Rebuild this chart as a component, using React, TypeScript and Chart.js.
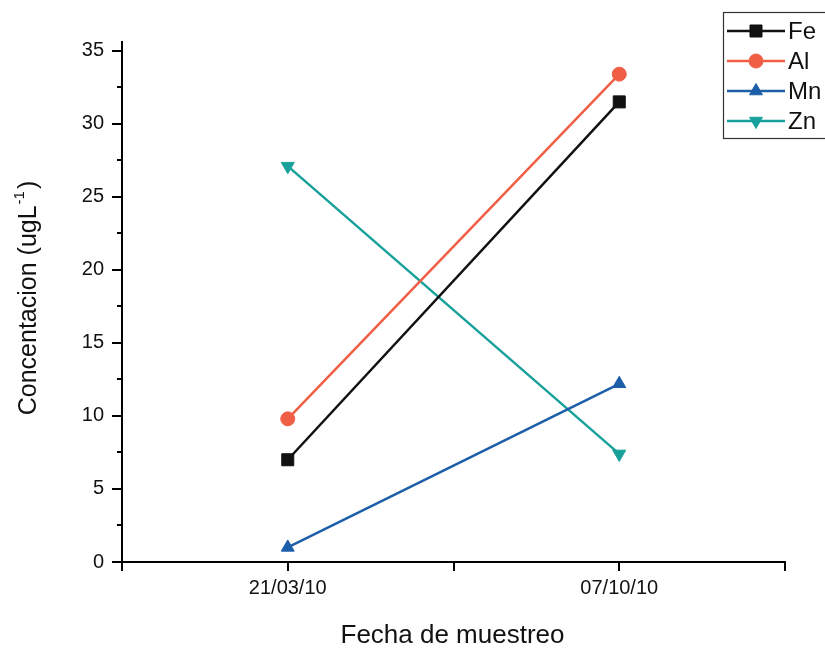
import React, { useEffect, useRef } from "react";
import { Chart, registerables } from "chart.js";

Chart.register(...registerables);

// Sampling dates (x positions 1 and 2 on a 0.5–2.5 axis)
const sampleDates = ["21/03/10", "07/10/10"];
const samplePositions = [1, 2];

// Metal concentrations (ugL-1) at each sampling date
const feValues = [7.0, 31.5];
const alValues = [9.8, 33.4];
const mnValues = [1.0, 12.2];
const znValues = [27.1, 7.4];

const seriesNames = ["Fe", "Al", "Mn", "Zn"];
const seriesColors = ["#111111", "#f05f45", "#1d5ea8", "#18a19a"];

const yTickValues = [0, 5, 10, 15, 20, 25, 30, 35];

const W = 825;
const H = 650;

const FONT = "'Liberation Sans', Arial, sans-serif";

const toPoints = (vals: number[]) =>
  vals.map((v, i) => ({ x: samplePositions[i], y: v }));

function drawMarker(ctx: CanvasRenderingContext2D, style: string, rotation: number, r: number, x: number, y: number) {
  ctx.beginPath();
  if (style === "rect") {
    const s = r * Math.SQRT1_2;
    ctx.rect(x - s, y - s, 2 * s, 2 * s);
  } else if (style === "circle") {
    ctx.arc(x, y, r, 0, Math.PI * 2);
  } else {
    let rad = (rotation * Math.PI) / 180;
    ctx.moveTo(x + Math.sin(rad) * r, y - Math.cos(rad) * r);
    rad += (2 * Math.PI) / 3;
    ctx.lineTo(x + Math.sin(rad) * r, y - Math.cos(rad) * r);
    rad += (2 * Math.PI) / 3;
    ctx.lineTo(x + Math.sin(rad) * r, y - Math.cos(rad) * r);
    ctx.closePath();
  }
  ctx.fill();
  ctx.stroke();
}

// Axis ticks (major + minor), titles and the boxed legend
const decorPlugin = {
  id: "decor",
  afterDraw(chart: any) {
    const { ctx, scales, chartArea } = chart;
    const xs = scales.x;
    const ys = scales.y;
    ctx.save();
    ctx.strokeStyle = "#000";
    ctx.lineWidth = 2;

    // y ticks: majors every 5, minors every 2.5
    for (let v = 0; v <= 35; v += 2.5) {
      const py = Math.round(ys.getPixelForValue(v));
      const len = v % 5 === 0 ? 10 : 5;
      ctx.beginPath();
      ctx.moveTo(chartArea.left, py);
      ctx.lineTo(chartArea.left - len, py);
      ctx.stroke();
    }
    // x ticks every 0.5
    for (let v = 0.5; v <= 2.5001; v += 0.5) {
      const px = Math.round(xs.getPixelForValue(v));
      ctx.beginPath();
      ctx.moveTo(px, chartArea.bottom);
      ctx.lineTo(px, chartArea.bottom + 9);
      ctx.stroke();
    }

    // x title
    ctx.fillStyle = "#111";
    ctx.font = `26px ${FONT}`;
    ctx.textAlign = "center";
    ctx.textBaseline = "alphabetic";
    ctx.fillText("Fecha de muestreo", (chartArea.left + chartArea.right) / 2 - 1, 643);

    // y title with superscript
    const main = "Concentacion (ugL";
    const sup = "-1";
    const close = ")";
    ctx.save();
    ctx.translate(36, 298);
    ctx.rotate(-Math.PI / 2);
    ctx.font = `25px ${FONT}`;
    const wMain = ctx.measureText(main).width;
    ctx.font = `15px ${FONT}`;
    const wSup = ctx.measureText(sup).width;
    ctx.font = `25px ${FONT}`;
    const wClose = ctx.measureText(close).width;
    const total = wMain + wSup + 3 + wClose;
    let x0 = -total / 2;
    ctx.textAlign = "left";
    ctx.fillText(main, x0, 0);
    x0 += wMain + 1;
    ctx.font = `15px ${FONT}`;
    ctx.fillText(sup, x0, -12);
    x0 += wSup + 2;
    ctx.font = `25px ${FONT}`;
    ctx.fillText(close, x0, 0);
    ctx.restore();

    // legend box
    ctx.lineWidth = 1.2;
    ctx.strokeStyle = "#333";
    ctx.strokeRect(723.5, 12.5, 140, 126);
    const rowY = [31, 61, 91, 121];
    chart.data.datasets.forEach((ds: any, i: number) => {
      const y = rowY[i];
      ctx.strokeStyle = ds.borderColor;
      ctx.lineWidth = 2.5;
      ctx.beginPath();
      ctx.moveTo(727, y);
      ctx.lineTo(785, y);
      ctx.stroke();
      ctx.fillStyle = ds.borderColor;
      ctx.strokeStyle = ds.borderColor;
      ctx.lineWidth = 1;
      drawMarker(ctx, ds.pointStyle, ds.pointRotation || 0, ds.pointRadius, 756, y);
      ctx.fillStyle = "#111";
      ctx.font = `24px ${FONT}`;
      ctx.textAlign = "left";
      ctx.textBaseline = "middle";
      ctx.fillText(ds.label, 788, y + 1);
    });
    ctx.restore();
  },
};

export default function App() {
  const canvasRef = useRef<HTMLCanvasElement | null>(null);

  useEffect(() => {
    if (!canvasRef.current) return;
    const values = [feValues, alValues, mnValues, znValues];
    const styles = ["rect", "circle", "triangle", "triangle"];
    const rotations = [0, 0, 0, 180];
    const radii = [8.5, 7, 7.5, 7.5];

    const chart = new Chart(canvasRef.current, {
      type: "line",
      data: {
        datasets: seriesNames.map((name, i) => ({
          label: name,
          data: toPoints(values[i]),
          borderColor: seriesColors[i],
          backgroundColor: seriesColors[i],
          borderWidth: 2.5,
          pointStyle: styles[i],
          pointRotation: rotations[i],
          pointRadius: radii[i],
          pointBorderWidth: 1,
          pointBackgroundColor: seriesColors[i],
          pointBorderColor: seriesColors[i],
          tension: 0,
        })) as any,
      },
      options: {
        responsive: false,
        animation: false,
        layout: { padding: { top: 42, right: 40, left: 0, bottom: 0 } },
        plugins: {
          legend: { display: false },
          tooltip: { enabled: false },
        },
        scales: {
          x: {
            type: "linear",
            min: 0.5,
            max: 2.5,
            afterFit: (s: any) => {
              s.height = 88;
            },
            afterBuildTicks: (s: any) => {
              s.ticks = samplePositions.map((v) => ({ value: v }));
            },
            ticks: {
              autoSkip: false,
              maxRotation: 0,
              padding: 4,
              color: "#111",
              font: { family: FONT, size: 20 },
              callback: (v: any) => {
                const idx = samplePositions.indexOf(Number(v));
                return idx >= 0 ? sampleDates[idx] : "";
              },
            },
            grid: { display: true, drawOnChartArea: false, tickLength: 10, tickColor: "transparent" },
            border: { display: true, color: "#000", width: 2 },
          },
          y: {
            type: "linear",
            min: 0,
            max: 35.6,
            afterFit: (s: any) => {
              s.width = 122;
            },
            afterBuildTicks: (s: any) => {
              s.ticks = yTickValues.map((v) => ({ value: v }));
            },
            ticks: {
              padding: 8,
              color: "#111",
              font: { family: FONT, size: 20 },
            },
            grid: { display: true, drawOnChartArea: false, tickLength: 10, tickColor: "transparent" },
            border: { display: true, color: "#000", width: 2 },
          },
        },
      },
      plugins: [decorPlugin],
    });
    return () => chart.destroy();
  }, []);

  return (
    <div style={{ position: "fixed", left: 0, top: 0, width: W, height: H, background: "#fff" }}>
      <canvas ref={canvasRef} width={W} height={H} style={{ width: W, height: H, display: "block" }} />
    </div>
  );
}
